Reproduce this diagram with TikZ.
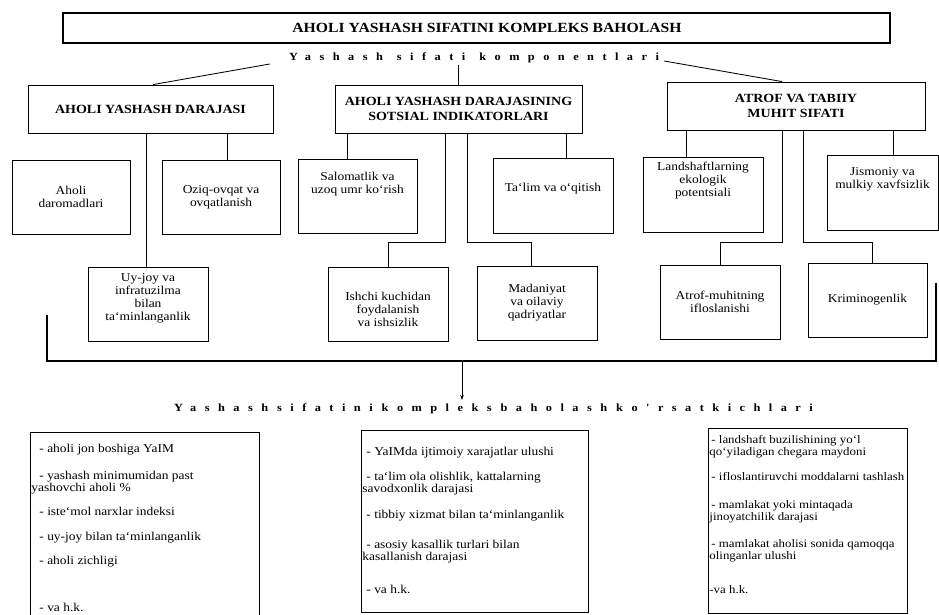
\documentclass[tikz,border=0pt]{standalone}
\usepackage{fontspec}
\setmainfont{Liberation Serif}[FakeStretch=1.12]
\newfontfamily\spacedfont{Liberation Serif}[FakeStretch=1.12,LetterSpace=77]
\usetikzlibrary{calc,arrows.meta}
\newcommand\padbelow[1]{\\\rule{0pt}{#1}}
\newcommand\padabove[1]{\rule{0pt}{#1}\\}
\newcommand\bodyfont{\fontsize{12}{12}\selectfont\lineskiplimit=-20pt\relax}
\newcommand\bodyfontR{\fontsize{11.5}{11.5}\selectfont\lineskiplimit=-20pt\relax}
\begin{document}
\begin{tikzpicture}[x=1pt,y=-1pt,
  box/.style={draw, line width=0.85pt, inner sep=0pt, align=center},
  hdr/.style={box, font=\bfseries\fontsize{12.5}{14.5}\selectfont},
  sub/.style={box, minimum width=120pt, minimum height=74pt, font=\fontsize{12}{13}\selectfont},
  conn/.style={line width=0.85pt},
  spaced/.style={inner sep=1pt, anchor=base, font=\spacedfont\bfseries\fontsize{11}{13}\selectfont},
]
\useasboundingbox (0,0) rectangle (939,615);
\fill[white] (0,0) rectangle (939,615);

% title
\node[box, line width=1.2pt, minimum width=827pt, minimum height=30pt, font=\bfseries\fontsize{14}{16}\selectfont] (title) at (476.5,28) {\hspace*{21pt}AHOLI YASHASH SIFATINI KOMPLEKS BAHOLASH};
\node[spaced] (comp) at (474,61) {Yashash\hspace{14pt}sifati\hspace{14pt}komponentlari};

% headers
\node[hdr, minimum width=245pt, minimum height=48pt] (h1) at (150.5,109) {AHOLI YASHASH DARAJASI};
\node[hdr, minimum width=247pt, minimum height=48pt] (h2) at (458.5,109) {AHOLI YASHASH DARAJASINING\\SOTSIAL INDIKATORLARI};
\node[hdr, minimum width=258pt, minimum height=48pt] (h3) at (796,106) {ATROF VA TABIIY\\MUHIT SIFATI};

\draw[conn] ($(comp.base west)+(-18,3)$) -- ($(h1.north)+(2.5,0)$);
\draw[conn] (h2.north |- comp.south) -- (h2.north);
\draw[conn] ($(comp.base east)+(4,0)$) -- ($(h3.north)+(-14,0)$);

% first row of components
\node[sub, minimum width=118pt] (a1) at (71,197) {Aholi\\daromadlari};
\node[sub, minimum width=118pt] (a2) at (221,197) {Oziq-ovqat va\\ovqatlanish};
\node[sub, minimum width=119pt] (b1) at (357.5,196) {Salomatlik va\\uzoq umr ko`rish\padbelow{23pt}};
\node[sub, minimum height=75pt] (b2) at (553,195.5) {Ta`lim va o`qitish\padbelow{13pt}};
\node[sub, minimum height=75pt] (c1) at (703,194.5) {Landshaftlarning\\ekologik\\potentsiali\padbelow{26pt}};
\node[sub, minimum width=111pt, minimum height=75pt] (c2) at (882.5,192.5) {Jismoniy va\\mulkiy xavfsizlik\padbelow{26pt}};

% second row of components
\node[sub] (a3) at (148,304) {Uy-joy va\\infratuzilma\\bilan\\ta`minlanganlik\padbelow{6pt}};
\node[sub] (b3) at (388,304) {\padabove{6pt}Ishchi kuchidan\\foydalanish\\va ishsizlik};
\node[sub] (b4) at (537,303) {Madaniyat\\va oilaviy\\qadriyatlar};
\node[sub] (c3) at (720,302) {Atrof-muhitning\\ifloslanishi};
\node[sub, minimum width=119pt] (c4) at (867.5,300) {Kriminogenlik};

% connectors from headers
\draw[conn] ($(h1.south)+(76.5,0)$) -- ($(a2.north)+(6,0)$);
\draw[conn] ($(h1.south)+(-4.5,0)$) -- ($(a3.north)+(-2,0)$);
\draw[conn] ($(h2.south)+(-111.5,0)$) -- ($(b1.north)+(-10.5,0)$);
\draw[conn] ($(h2.south)+(107.5,0)$) -- ($(b2.north)+(13,0)$);
\draw[conn] ($(h2.south)+(-13.5,0)$) -- ++(0,109) -| (b3.north);
\draw[conn] ($(h2.south)+(8.5,0)$) -- ++(0,109) -| ($(b4.north)+(-6,0)$);
\draw[conn] ($(h3.south)+(-110,0)$) -- ($(c1.north)+(-17,0)$);
\draw[conn] ($(h3.south)+(97,0)$) -- ($(c2.north)+(10.5,0)$);
\draw[conn] ($(h3.south)+(-14,0)$) -- ++(0,112) -| (c3.north);
\draw[conn] ($(h3.south)+(7,0)$) -- ++(0,112) -| ($(c4.north)+(4.5,0)$);

% bracket and arrow
\coordinate (bkL) at (47,315);
\coordinate (bkR) at (936,283);
\coordinate (arrS) at (462,361);
\draw[line width=1.3pt] (bkL) -- ++(0,46) -| (bkR);
\node[spaced, inner sep=3pt] (subt) at (493.5,411) {Yashash\hspace{9pt}sifatini\hspace{9pt}kompleks\hspace{9pt}baholash\hspace{9pt}ko'rsatkichlari};
\draw[conn, -{Stealth[length=5pt,width=3.5pt]}] (arrS) -- (arrS |- subt.north);

% indicator boxes
\node[box, anchor=north west] (kL) at (30,432) {\begin{minipage}[t][185pt][t]{229pt}\bodyfont\vspace{11.6pt}%
\strut\hspace*{9pt}- aholi jon boshiga YaIM\\[15pt]
\hspace*{9pt}- yashash minimumidan past\\
\hspace*{1pt}yashovchi aholi \%\\[12pt]
\hspace*{9pt}- iste`mol narxlar indeksi\\[13pt]
\hspace*{9pt}- uy-joy bilan ta`minlanganlik\\[12pt]
\hspace*{9pt}- aholi zichligi\\[35pt]
\hspace*{9pt}- va h.k.\end{minipage}};

\node[box, anchor=north west] (kM) at (361,430) {\begin{minipage}[t][182pt][t]{227pt}\bodyfont\vspace{16.6pt}%
\strut\hspace*{5pt}- YaIMda ijtimoiy xarajatlar ulushi\\[13pt]
\hspace*{5pt}- ta`lim ola olishlik, kattalarning\\
\hspace*{1pt}savodxonlik darajasi\\[14pt]
\hspace*{5pt}- tibbiy xizmat bilan ta`minlanganlik\\[18pt]
\hspace*{5pt}- asosiy kasallik turlari bilan\\
\hspace*{1pt}kasallanish darajasi\\[21pt]
\hspace*{5pt}- va h.k.\end{minipage}};

\node[box, anchor=north west] (kR) at (708,428) {\begin{minipage}[t][185pt][t]{199pt}\bodyfontR\vspace{7pt}%
\strut\hspace*{3pt}- landshaft buzilishining yo`l\\
\hspace*{1pt}qo`yiladigan chegara maydoni\\[14pt]
\hspace*{3pt}- ifloslantiruvchi moddalarni tashlash\\[16.5pt]
\hspace*{3pt}- mamlakat yoki mintaqada\\
\hspace*{1pt}jinoyatchilik darajasi\\[16pt]
\hspace*{3pt}- mamlakat aholisi sonida qamoqqa\\
\hspace*{1pt}olinganlar ulushi\\[23pt]
\hspace*{1pt}-va h.k.\end{minipage}};
\end{tikzpicture}
\end{document}
